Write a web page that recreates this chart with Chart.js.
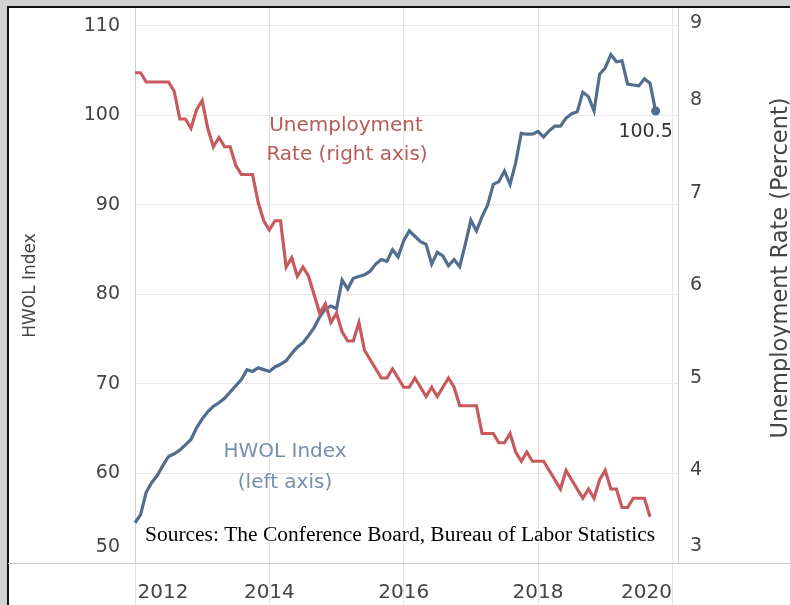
<!DOCTYPE html>
<html>
<head>
<meta charset="utf-8">
<script src="https://cdn.jsdelivr.net/npm/chart.js@4.4.1/dist/chart.umd.min.js"></script>
<style>
  body { margin: 0; background: #d0d0d0; }
  canvas { display: block; }
</style>
</head>
<body>
<canvas id="hwolChart" width="790" height="605"></canvas>
<script>
// monthly categories, Jan 2012 .. Feb 2020 (axis runs a little past 2020)
const months = [];
for (let y = 2012; y <= 2020; y++) {
    for (let m = 1; m <= 12; m++) {
        if (y === 2020 && m > 2) break;
        months.push(y + '-' + String(m).padStart(2, '0'));
    }
}

const yearTicks = ['2012', '2014', '2016', '2018', '2020'];
const hwolTicks = [50, 60, 70, 80, 90, 100, 110];
const rateTicks = [3, 4, 5, 6, 7, 8, 9];

// HWOL Index (left axis), Jan 2012 - Oct 2019
const hwolIndex = [
    54.5, 55.4, 57.9, 59.0, 59.8, 60.9, 61.9, 62.2, 62.6, 63.2, 63.8, 65.1,
    66.1, 66.9, 67.5, 67.9, 68.4, 69.1, 69.8, 70.5, 71.6, 71.4, 71.8, 71.6,
    71.4, 71.9, 72.2, 72.6, 73.4, 74.1, 74.6, 75.4, 76.3, 77.5, 78.4, 78.7,
    78.4, 81.6, 80.6, 81.8, 82.0, 82.2, 82.6, 83.4, 83.9, 83.7, 85.0, 84.2,
    86.0, 87.1, 86.5, 85.9, 85.6, 83.4, 84.7, 84.3, 83.2, 83.9, 83.1, 85.6,
    88.3, 87.1, 88.7, 90.0, 92.3, 92.6, 93.8, 92.3, 94.7, 98.0, 97.9, 97.9,
    98.2, 97.6, 98.3, 98.8, 98.8, 99.7, 100.2, 100.4, 102.6, 102.1, 100.5, 104.6,
    105.3, 106.8, 106.0, 106.1, 103.5, 103.4, 103.3, 104.1, 103.6, 100.5
];

// Unemployment rate, percent (right axis), Jan 2012 - Sep 2019
const unemploymentRate = [
    8.3, 8.3, 8.2, 8.2, 8.2, 8.2, 8.2, 8.1, 7.8, 7.8, 7.7, 7.9,
    8.0, 7.7, 7.5, 7.6, 7.5, 7.5, 7.3, 7.2, 7.2, 7.2, 6.9, 6.7,
    6.6, 6.7, 6.7, 6.2, 6.3, 6.1, 6.2, 6.1, 5.9, 5.7, 5.8, 5.6,
    5.7, 5.5, 5.4, 5.4, 5.6, 5.3, 5.2, 5.1, 5.0, 5.0, 5.1, 5.0,
    4.9, 4.9, 5.0, 4.9, 4.8, 4.9, 4.8, 4.9, 5.0, 4.9, 4.7, 4.7,
    4.7, 4.7, 4.4, 4.4, 4.4, 4.3, 4.3, 4.4, 4.2, 4.1, 4.2, 4.1,
    4.1, 4.1, 4.0, 3.9, 3.8, 4.0, 3.9, 3.8, 3.7, 3.8, 3.7, 3.9,
    4.0, 3.8, 3.8, 3.6, 3.6, 3.7, 3.7, 3.7, 3.5
];

const blue = '#526d8d';
const red = '#c65a5e';
const tickFont = "'DejaVu Sans', sans-serif";

// white panel with the black frame, grey outside it
const framePlugin = {
    id: 'frame',
    beforeDraw(chart) {
        const ctx = chart.ctx;
        ctx.save();
        ctx.fillStyle = '#d2d2d2';
        ctx.fillRect(0, 0, chart.width, chart.height);
        ctx.fillStyle = '#ffffff';
        ctx.fillRect(8, 7, chart.width - 8, chart.height - 7);
        ctx.strokeStyle = '#111';
        ctx.lineWidth = 2;
        ctx.beginPath();
        ctx.moveTo(8, chart.height);
        ctx.lineTo(8, 7);
        ctx.lineTo(chart.width, 7);
        ctx.stroke();
        ctx.restore();
    }
};

// pull the end labels back inside the pane, as Tableau does
const edgeLabels = {
    id: 'edgeLabels',
    beforeDraw(chart) {
        const nudge = (scale, first, last, k) => {
            const items = scale.getLabelItems();
            if (!items.length || items._nudged) return;
            items[0].options.translation[k] += first;
            items[items.length - 1].options.translation[k] += last;
            items._nudged = true;
        };
        nudge(chart.scales.x, 28, -26, 0);
        nudge(chart.scales.y, -16, 0, 1);
        nudge(chart.scales.y2, -17, 15, 1);
    }
};

const notesPlugin = {
    id: 'notes',
    afterDraw(chart) {
        const ctx = chart.ctx;
        const area = chart.chartArea;
        ctx.save();

        // axis base line runs the full width
        ctx.strokeStyle = '#c9c9c9';
        ctx.lineWidth = 1;
        ctx.beginPath();
        ctx.moveTo(8, Math.round(area.bottom) + 0.5);
        ctx.lineTo(chart.width, Math.round(area.bottom) + 0.5);
        ctx.stroke();

        ctx.textAlign = 'center';
        ctx.textBaseline = 'middle';
        ctx.font = "20px 'DejaVu Sans', sans-serif";
        ctx.fillStyle = '#b65b58';
        ctx.fillText('Unemployment', 346, 126);
        ctx.fillText('Rate (right axis)', 347, 155);
        ctx.fillStyle = '#7590ad';
        ctx.fillText('HWOL Index', 285, 452);
        ctx.fillText('(left axis)', 285, 483);

        // last value label
        const meta = chart.getDatasetMeta(0);
        const last = meta.data[hwolIndex.length - 1];
        ctx.fillStyle = '#333';
        ctx.font = "19px 'DejaVu Sans', sans-serif";
        ctx.fillText(hwolIndex[hwolIndex.length - 1].toFixed(1), last.x - 10, last.y + 21);

        // right axis title reads bottom to top
        ctx.fillStyle = '#444';
        ctx.font = "22.5px 'DejaVu Sans', sans-serif";
        ctx.translate(781, 268);
        ctx.rotate(-Math.PI / 2);
        ctx.fillText('Unemployment Rate (Percent)', 0, 0);
        ctx.setTransform(1, 0, 0, 1, 0, 0);

        // source note, stretched to the width it has in the original
        const note = 'Sources: The Conference Board, Bureau of Labor Statistics';
        ctx.textAlign = 'left';
        ctx.fillStyle = '#000';
        ctx.font = "20px 'Liberation Serif', serif";
        const w = ctx.measureText(note).width;
        ctx.translate(145, 536);
        ctx.scale(510 / w, 1);
        ctx.fillText(note, 0, 0);
        ctx.restore();
    }
};

new Chart(document.getElementById('hwolChart'), {
    type: 'line',
    data: {
        labels: months,
        datasets: [{
            label: 'HWOL Index',
            data: hwolIndex,
            yAxisID: 'y',
            order: 2,
            borderColor: blue,
            backgroundColor: blue,
            borderWidth: 3.2,
            pointRadius: ctx => ctx.dataIndex === hwolIndex.length - 1 ? 4.5 : 0,
            pointBorderWidth: 0,
            pointBackgroundColor: blue
        }, {
            label: 'Unemployment Rate',
            data: unemploymentRate,
            yAxisID: 'y2',
            order: 1,
            borderColor: red,
            borderWidth: 3.2,
            pointRadius: 0
        }]
    },
    options: {
        responsive: false,
        animation: false,
        events: [],
        layout: { padding: { left: 8, top: 8, right: 0, bottom: 0 } },
        plugins: {
            legend: { display: false },
            tooltip: { enabled: false }
        },
        scales: {
            x: {
                afterBuildTicks(scale) {
                    scale.ticks = yearTicks.map(y => ({ value: months.indexOf(y + '-01') }));
                },
                afterFit(scale) {
                    scale.height = 42;
                    scale.paddingLeft = 0;
                    scale.paddingRight = 0;
                },
                grid: { color: '#e4e4e4', tickLength: 42 },
                border: { color: '#c9c9c9' },
                ticks: {
                    autoSkip: false,
                    maxRotation: 0,
                    padding: -24,
                    color: '#444',
                    font: { family: tickFont, size: 20 },
                    callback: value => months[value].slice(0, 4)
                }
            },
            y: {
                position: 'left',
                min: 50,
                max: 112,
                afterBuildTicks(scale) {
                    scale.ticks = hwolTicks.map(v => ({ value: v }));
                },
                afterFit(scale) {
                    scale.width = 127;
                    scale.paddingTop = 0;
                    scale.paddingBottom = 0;
                },
                grid: { color: '#e9e9e9', drawTicks: false },
                border: { color: '#d0d0d0' },
                ticks: { padding: 15, color: '#444', font: { family: tickFont, size: 19 } },
                title: {
                    display: true,
                    text: 'HWOL Index',
                    color: '#444',
                    font: { family: tickFont, size: 17 },
                    padding: { top: 12, bottom: 0 }
                }
            },
            y2: {
                position: 'right',
                min: 3,
                max: 9,
                afterBuildTicks(scale) {
                    scale.ticks = rateTicks.map(v => ({ value: v }));
                },
                afterFit(scale) {
                    scale.width = 112;
                    scale.paddingTop = 0;
                    scale.paddingBottom = 0;
                },
                grid: { display: false, drawTicks: false },
                border: { color: '#cfcfcf' },
                ticks: { padding: 12, color: '#444', font: { family: tickFont, size: 19 } }
            }
        }
    },
    plugins: [framePlugin, edgeLabels, notesPlugin]
});
</script>
</body>
</html>
